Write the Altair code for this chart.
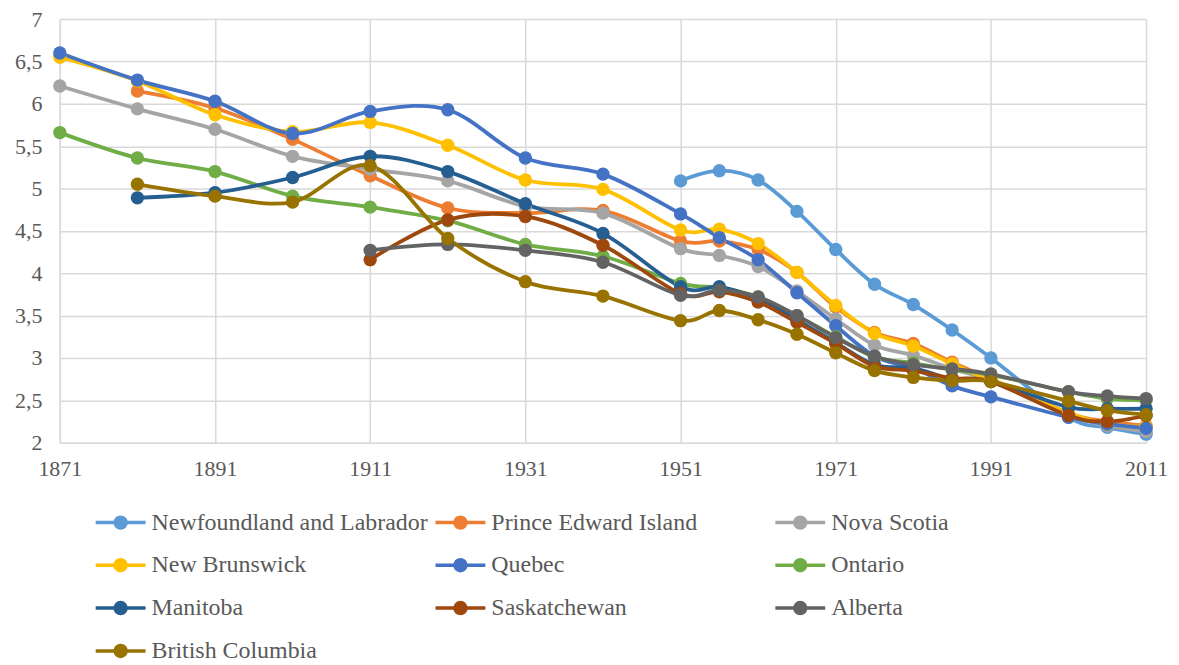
import altair as alt
import pandas as pd

years = [1871, 1881, 1891, 1901, 1911, 1921, 1931, 1941, 1951, 1956,
         1961, 1966, 1971, 1976, 1981, 1986, 1991, 2001, 2006, 2011]

N = None
newfoundland = [N, N, N, N, N, N, N, N, 5.09, 5.21, 5.10, 4.73, 4.28, 3.87, 3.63, 3.33, 3.00, 2.30, 2.18, 2.10]
pei = [N, 6.15, 5.95, 5.58, 5.15, 4.77, 4.71, 4.74, 4.38, 4.38, 4.28, 4.01, 3.60, 3.30, 3.17, 2.95, 2.75, 2.35, 2.25, 2.20]
nova_scotia = [6.21, 5.94, 5.70, 5.38, 5.23, 5.09, 4.79, 4.71, 4.29, 4.21, 4.08, 3.79, 3.46, 3.15, 3.03, 2.87, 2.73, 2.32, 2.20, 2.13]
new_brunswick = [6.55, 6.27, 5.87, 5.67, 5.78, 5.51, 5.10, 4.99, 4.51, 4.52, 4.35, 4.01, 3.62, 3.29, 3.14, 2.93, 2.73, 2.35, 2.22, 2.19]
quebec = [6.60, 6.28, 6.03, 5.65, 5.91, 5.93, 5.36, 5.17, 4.70, 4.42, 4.16, 3.77, 3.38, 3.02, 2.88, 2.67, 2.54, 2.30, 2.22, 2.17]
ontario = [5.66, 5.36, 5.20, 4.91, 4.78, 4.62, 4.34, 4.20, 3.88, 3.83, 3.72, 3.50, 3.25, 3.01, 2.94, 2.86, 2.80, 2.60, 2.52, 2.50]
manitoba = [N, 4.89, 4.95, 5.13, 5.38, 5.20, 4.82, 4.47, 3.84, 3.84, 3.70, 3.45, 3.18, 2.92, 2.88, 2.75, 2.72, 2.42, 2.40, 2.40]
saskatchewan = [N, N, N, N, 4.16, 4.63, 4.67, 4.33, 3.76, 3.78, 3.66, 3.42, 3.17, 2.90, 2.85, 2.76, 2.72, 2.32, 2.25, 2.32]
alberta = [N, N, N, N, 4.27, 4.34, 4.27, 4.13, 3.74, 3.80, 3.72, 3.50, 3.24, 3.02, 2.92, 2.87, 2.81, 2.60, 2.55, 2.52]
british_columbia = [N, 5.05, 4.91, 4.84, 5.27, 4.41, 3.90, 3.73, 3.44, 3.56, 3.45, 3.28, 3.06, 2.85, 2.77, 2.73, 2.72, 2.49, 2.38, 2.33]

series_names = ["Newfoundland and Labrador", "Prince Edward Island", "Nova Scotia",
                "New Brunswick", "Quebec", "Ontario", "Manitoba", "Saskatchewan",
                "Alberta", "British Columbia"]
series_values = [newfoundland, pei, nova_scotia, new_brunswick, quebec, ontario,
                 manitoba, saskatchewan, alberta, british_columbia]
colors = ["#5B9BD5", "#ED7D31", "#A5A5A5", "#FFC000", "#4472C4", "#70AD47",
          "#255E91", "#9E480E", "#636363", "#997300"]

x_ticks = [1871, 1891, 1911, 1931, 1951, 1971, 1991, 2011]
y_ticks = [2, 2.5, 3, 3.5, 4, 4.5, 5, 5.5, 6, 6.5, 7]

rows = []
for si, (name, vals) in enumerate(zip(series_names, series_values)):
    for yr, v in zip(years, vals):
        if v is not None:
            rows.append({"Year": yr, "Value": v, "Province": name, "order": si})
df = pd.DataFrame(rows)

FONT = "Times New Roman, Liberation Serif, DejaVu Serif, serif"

# legend symbol: line with a (filled-looking) circle, unit = 9px
sym = ("M-4.78,0L0.78,0"
       "M-1.39,0A0.61,0.61 0 1,1 -2.61,0A0.61,0.61 0 1,1 -1.39,0"
       "M-1.72,0A0.28,0.28 0 1,1 -2.28,0A0.28,0.28 0 1,1 -1.72,0"
       "M-1.91,0A0.09,0.09 0 1,1 -2.09,0A0.09,0.09 0 1,1 -1.91,0")

legend = alt.Legend(
    title=None, orient="none", legendX=67, legendY=493, columns=3,
    direction="horizontal",
    gridAlign="all", columnPadding=-1, rowPadding=17, padding=0,
    symbolType=sym, symbolSize=324, symbolStrokeWidth=3.5, labelOffset=1,
    labelFont=FONT, labelFontSize=24, labelColor="#595959",
    labelLimit=400,
)

color = alt.Color("Province:N", scale=alt.Scale(domain=series_names, range=colors),
                  sort=series_names, legend=legend)

x = alt.X("Year:Q", scale=alt.Scale(domain=[1871, 2011], nice=False, zero=False),
          axis=alt.Axis(values=x_ticks, format="d", title=None, grid=True,
                        gridColor="#d9d9d9", gridWidth=1.5, ticks=False,
                        domainColor="#d9d9d9", domainWidth=1.5, labelFlush=False,
                        labelFont=FONT, labelFontSize=22,
                        labelColor="#595959", labelPadding=16))
y = alt.Y("Value:Q", scale=alt.Scale(domain=[2, 7], nice=False, zero=False),
          axis=alt.Axis(values=y_ticks, title=None, grid=True,
                        gridColor="#d9d9d9", gridWidth=1.5, ticks=False,
                        domainColor="#d9d9d9", domainWidth=1.5, labelFlush=False,
                        labelExpr="replace(toString(datum.value), '.', ',')",
                        labelFont=FONT, labelFontSize=22,
                        labelColor="#595959", labelPadding=18))

lines = alt.Chart(df).mark_line(interpolate="cardinal", strokeWidth=3.8).encode(
    x=x, y=y, color=color, order=alt.Order("Year:Q"),
)
points = alt.Chart(df).mark_point(filled=True, size=180, opacity=1).encode(
    x=x, y=y, color=color,
)

chart = alt.layer(lines, points).properties(
    width=1090, height=425,
    autosize=alt.AutoSizeParams(type="none"),
    padding={"left": 52, "top": 10, "right": 25, "bottom": 222},
).configure(font=FONT).configure_view(stroke=None)

chart.save("out.html", embed_options={"renderer": "svg", "actions": False})
